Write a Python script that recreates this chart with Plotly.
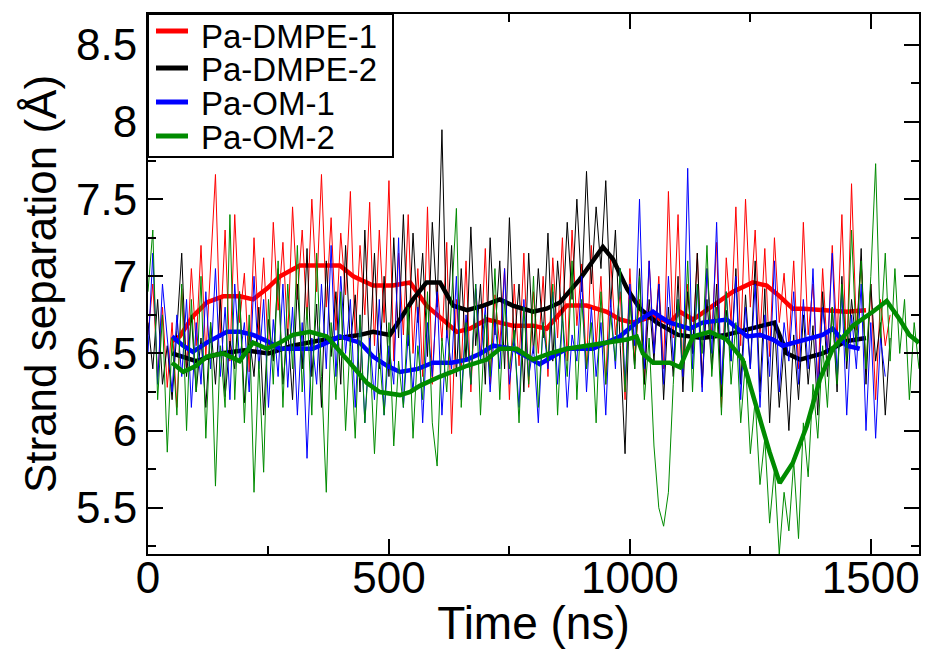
import plotly.graph_objects as go

# ---------------- data ----------------
series_names = ["Pa-DMPE-1", "Pa-DMPE-2", "Pa-OM-1", "Pa-OM-2"]
series_colors = ["#ff0000", "#000000", "#0000ff", "#008b00"]

t_red = list(range(0, 1541, 10))
red_raw = [
    6.62, 6.95, 6.35, 6.80, 6.28, 6.70, 6.15, 6.92, 6.40, 7.05,
    6.55, 7.20, 6.48, 7.10, 7.66, 6.60, 7.30, 6.45, 7.40, 6.70,
    7.02, 6.38, 7.25, 6.62, 7.12, 6.50, 7.35, 6.78, 7.22, 6.60,
    7.45, 6.85, 7.30, 6.72, 7.50, 6.90, 7.66, 6.80, 7.38, 6.65,
    7.28, 6.88, 7.55, 6.60, 7.20, 6.75, 7.48, 6.55, 7.30, 6.70,
    7.62, 6.45, 7.15, 6.62, 7.40, 6.50, 7.05, 6.35, 7.45, 6.30,
    6.95, 6.58, 7.22, 5.98, 6.85, 6.40, 7.10, 6.25, 6.92, 6.48,
    7.18, 6.30, 6.88, 6.55, 7.05, 6.20, 6.95, 6.42, 7.15, 6.28,
    6.90, 6.50, 7.00, 6.35, 7.12, 6.60, 7.25, 6.45, 7.30, 6.68,
    7.08, 6.40, 7.20, 6.55, 7.00, 6.30, 7.12, 6.62, 6.90, 6.20,
    7.05, 6.45, 6.85, 6.30, 7.10, 6.50, 7.00, 6.40, 7.55, 6.60,
    7.40, 6.35, 6.95, 6.50, 7.15, 6.28, 7.05, 6.62, 7.22, 6.15,
    7.12, 6.70, 7.45, 6.55, 7.50, 6.80, 7.30, 6.60, 7.18, 6.48,
    7.25, 6.70, 7.02, 6.55, 7.10, 6.40, 7.35, 6.62, 6.95, 6.30,
    7.05, 6.50, 7.20, 6.58, 7.40, 6.45, 7.60, 6.65, 7.10, 6.38,
    6.95, 6.20, 6.85, 6.55, 6.75,
]

t_black = list(range(0, 1541, 10))
black_raw = [
    6.70, 6.40, 6.85, 6.30, 6.55, 6.20, 6.65, 7.15, 6.35, 6.75,
    6.25, 6.60, 6.15, 6.70, 6.30, 6.85, 6.22, 6.58, 6.40, 6.90,
    6.18, 6.62, 6.35, 6.80, 6.10, 6.72, 6.45, 7.05, 6.30, 6.66,
    6.20, 6.95, 6.40, 7.18, 6.35, 6.82, 6.15, 7.10, 6.48, 6.90,
    6.30, 7.20, 6.55, 6.88, 6.25, 7.30, 6.50, 7.15, 6.40, 7.00,
    6.35, 7.25, 6.60, 7.40, 6.55, 7.28, 6.70, 7.15, 6.48, 7.35,
    6.80, 7.95, 6.60, 7.20, 6.35, 7.05, 6.45, 7.32, 6.55, 6.95,
    6.30, 7.25, 6.62, 7.10, 6.40, 7.38, 6.55, 6.95, 6.25, 7.15,
    6.50, 7.05, 6.60, 7.28, 6.45, 7.10, 6.70, 7.35, 6.85, 7.50,
    6.90, 7.68, 6.95, 7.45, 7.05, 7.62, 6.80, 7.30, 6.55, 5.85,
    6.90, 6.40, 7.05, 6.30, 6.85, 6.45, 6.95, 6.20, 6.80, 6.35,
    7.00, 6.25, 6.90, 6.50, 7.15, 6.30, 6.85, 6.40, 6.95, 6.22,
    6.78, 6.45, 7.05, 6.30, 6.88, 6.40, 7.10, 6.25, 6.92, 6.05,
    6.70, 6.15, 6.55, 6.00, 6.62, 6.20, 6.75, 6.30, 6.68, 6.10,
    6.90, 6.35, 6.80, 6.25, 7.00, 6.40, 6.85, 6.55, 7.18, 6.30,
    6.95, 6.45, 6.70, 6.10, 6.60,
]

t_blue = list(range(0, 1531, 10))
blue_raw = [
    6.50, 7.15, 6.30, 6.95, 6.60, 6.25, 6.75, 6.35, 6.85, 6.15,
    6.70, 6.30, 6.90, 6.40, 7.05, 6.35, 6.80, 6.20, 6.95, 6.45,
    6.70, 6.25, 7.00, 6.40, 6.85, 6.15, 6.72, 6.35, 6.95, 6.28,
    6.80, 6.10, 6.70, 5.82, 6.60, 6.30, 6.95, 6.40, 7.20, 6.35,
    7.00, 6.50, 6.85, 6.15, 6.75, 6.05, 6.60, 6.20, 6.85, 6.10,
    6.55, 6.30, 7.25, 6.15, 6.62, 6.25, 6.80, 6.05, 6.70, 6.35,
    6.90, 6.10, 6.65, 6.40, 7.00, 6.20, 6.75, 6.30, 6.95, 6.45,
    6.80, 6.25, 6.70, 6.40, 7.05, 6.30, 6.60, 6.15, 6.85, 6.35,
    6.55, 6.05, 6.70, 6.40, 6.90, 6.30, 6.75, 6.15, 6.62, 6.45,
    7.00, 6.25, 6.80, 6.35, 6.70, 6.10, 6.85, 6.40, 7.05, 6.30,
    6.95, 6.55, 7.50, 6.40, 7.10, 6.50, 6.95, 6.30, 7.00, 6.45,
    6.85, 6.35, 7.70, 6.40, 6.95, 6.25, 7.05, 6.50, 7.35, 6.30,
    6.90, 6.45, 7.00, 6.20, 6.80, 6.40, 6.95, 6.15, 6.75, 6.35,
    7.10, 6.25, 6.70, 6.45, 6.90, 6.30, 6.85, 6.40, 7.05, 6.25,
    6.80, 6.50, 7.15, 6.35, 6.90, 6.10, 6.75, 6.40, 6.95, 6.00,
    6.70, 5.95, 6.60, 6.35,
]

t_green = list(range(0, 1601, 10))
green_raw = [
    6.90, 7.30, 6.20, 6.75, 5.86, 6.60, 6.10, 6.95, 6.00, 6.85,
    6.25, 7.00, 5.95, 6.70, 5.64, 6.55, 6.15, 7.40, 6.20, 6.90,
    6.05, 6.75, 5.60, 6.45, 5.73, 6.85, 6.30, 7.10, 6.15, 6.95,
    6.40, 7.20, 6.25, 6.80, 6.10, 7.15, 6.35, 5.60, 6.70, 6.20,
    6.90, 6.00, 6.60, 5.95, 6.75, 6.05, 6.55, 5.85, 6.50, 6.10,
    6.70, 5.90, 6.45, 6.15, 6.80, 5.95, 6.55, 6.20, 6.90, 6.05,
    5.77, 6.60, 6.25, 6.85, 7.44, 6.15, 6.70, 6.30, 6.95, 6.10,
    6.75, 6.35, 7.05, 6.20, 6.85, 6.40, 6.65, 6.05, 6.80, 6.30,
    7.00, 6.15, 6.70, 6.45, 6.95, 6.10, 6.75, 6.35, 7.10, 6.20,
    6.85, 6.40, 6.70, 6.05, 6.90, 6.30, 6.75, 6.45, 7.05, 6.25,
    6.85, 6.40, 7.00, 6.20, 6.60, 5.90, 5.50, 5.38, 5.60, 6.30,
    6.85, 6.40, 7.10, 6.25, 6.95, 6.50, 7.20, 6.35, 6.80, 6.10,
    6.90, 6.30, 6.70, 6.05, 6.45, 5.85, 6.20, 5.65, 5.95, 5.40,
    5.75, 5.20, 5.60, 5.35, 5.80, 5.30, 6.05, 5.70, 6.30, 5.95,
    6.55, 6.15, 6.80, 6.30, 6.95, 6.45, 7.30, 6.55, 7.10, 6.40,
    7.00, 7.73, 6.60, 7.15, 6.45, 7.05, 6.50, 6.85, 6.20, 6.70,
    6.40,
]

# running averages (thick lines)
ts_red = [50, 66, 93, 122, 156, 191, 218, 247, 274, 315, 357, 398, 426, 467, 508,
          544, 578, 613, 641, 668, 703, 730, 757, 799, 827, 869, 910, 952, 979,
          1006, 1048, 1083, 1104, 1131, 1172, 1214, 1255, 1284, 1311, 1338, 1360,
          1400, 1450, 1490]
red_avg = [6.58, 6.61, 6.74, 6.83, 6.87, 6.87, 6.85, 6.92, 7.00, 7.07, 7.07, 7.07,
           7.00, 6.94, 6.94, 6.96, 6.81, 6.72, 6.64, 6.66, 6.72, 6.70, 6.68, 6.68,
           6.66, 6.81, 6.81, 6.77, 6.72, 6.70, 6.74, 6.70, 6.77, 6.72, 6.81, 6.90,
           6.96, 6.94, 6.87, 6.79, 6.79, 6.78, 6.77, 6.78]

ts_black = [50, 100, 150, 200, 250, 300, 350, 400, 440, 467, 502, 523, 550, 578,
            606, 633, 662, 696, 730, 757, 799, 827, 855, 896, 923, 944, 965, 994,
            1021, 1056, 1100, 1150, 1200, 1250, 1300, 1326, 1353, 1400, 1450, 1490]
black_avg = [6.50, 6.45, 6.50, 6.52, 6.50, 6.55, 6.58, 6.60, 6.62, 6.64, 6.62,
             6.72, 6.85, 6.96, 6.96, 6.81, 6.78, 6.81, 6.85, 6.81, 6.77, 6.79,
             6.83, 6.98, 7.10, 7.19, 7.11, 6.92, 6.79, 6.70, 6.62, 6.60, 6.62,
             6.66, 6.70, 6.50, 6.46, 6.50, 6.58, 6.60]

ts_blue = [50, 73, 93, 122, 164, 191, 218, 247, 274, 309, 342, 371, 398, 440, 467,
           496, 523, 560, 591, 630, 662, 690, 716, 757, 785, 813, 840, 869, 923,
           979, 1021, 1048, 1062, 1083, 1124, 1151, 1201, 1243, 1270, 1297, 1317,
           1367, 1400, 1421, 1450, 1477]
blue_avg = [6.61, 6.55, 6.51, 6.57, 6.64, 6.64, 6.62, 6.58, 6.53, 6.53, 6.53,
            6.57, 6.61, 6.57, 6.48, 6.42, 6.38, 6.40, 6.44, 6.44, 6.46, 6.50,
            6.55, 6.53, 6.48, 6.43, 6.48, 6.53, 6.53, 6.61, 6.72, 6.77, 6.74,
            6.70, 6.66, 6.70, 6.72, 6.61, 6.62, 6.59, 6.55, 6.59, 6.62, 6.66,
            6.55, 6.53]

ts_green = [50, 73, 100, 122, 156, 190, 218, 247, 274, 301, 336, 371, 413, 454,
            481, 523, 544, 564, 606, 662, 703, 730, 765, 799, 834, 869, 910, 952,
            994, 1014, 1027, 1048, 1083, 1104, 1131, 1166, 1201, 1234, 1270, 1290,
            1311, 1338, 1367, 1394, 1421, 1463, 1504, 1533, 1560, 1580, 1600]
green_avg = [6.44, 6.38, 6.42, 6.48, 6.50, 6.45, 6.57, 6.53, 6.57, 6.62, 6.64,
             6.61, 6.46, 6.31, 6.25, 6.23, 6.25, 6.29, 6.35, 6.42, 6.46, 6.53,
             6.53, 6.46, 6.50, 6.53, 6.55, 6.57, 6.59, 6.61, 6.50, 6.44, 6.44,
             6.41, 6.61, 6.64, 6.59, 6.46, 6.07, 5.86, 5.66, 5.79, 6.03, 6.33,
             6.53, 6.68, 6.77, 6.84, 6.72, 6.62, 6.57]

x_ticks = [0, 500, 1000, 1500]
y_ticks = [5.5, 6, 6.5, 7, 7.5, 8, 8.5]
y_tick_text = ["5.5", "6", "6.5", "7", "7.5", "8", "8.5"]

# ---------------- figure ----------------
FONT = "Liberation Sans, Arial, sans-serif"
raw = [(t_red, red_raw), (t_black, black_raw), (t_blue, blue_raw), (t_green, green_raw)]
avg = [(ts_red, red_avg), (ts_black, black_avg), (ts_blue, blue_avg), (ts_green, green_avg)]

fig = go.Figure()
for i in range(4):
    fig.add_trace(go.Scatter(x=raw[i][0], y=raw[i][1], mode="lines",
                             line=dict(color=series_colors[i], width=1),
                             showlegend=False, hoverinfo="skip"))
    fig.add_trace(go.Scatter(x=avg[i][0], y=avg[i][1], mode="lines",
                             line=dict(color=series_colors[i], width=4.5),
                             name=series_names[i], showlegend=False))

W, H = 929, 649
ML, MR, MT, MB = 148, 10, 14, 95
PW, PH = W - ML - MR, H - MT - MB


def px(xp):
    return (xp - ML) / PW


def py(yp):
    return (H - MB - yp) / PH


shapes = [dict(type="rect", xref="paper", yref="paper", x0=0, x1=px(393),
               y0=py(157), y1=1, line=dict(color="black", width=2),
               fillcolor="white", layer="above")]
annotations = []
rows_line = [31, 68, 102, 136]
rows_text = [36, 69, 103, 137]
for i in range(4):
    shapes.append(dict(type="line", xref="paper", yref="paper", x0=px(156), x1=px(188),
                       y0=py(rows_line[i]), y1=py(rows_line[i]),
                       line=dict(color=series_colors[i], width=5), layer="above"))
    annotations.append(dict(xref="paper", yref="paper", x=px(200), y=py(rows_text[i]),
                            xanchor="left", yanchor="middle", showarrow=False,
                            text=series_names[i], height=30, borderpad=0,
                            font=dict(family=FONT, size=33, color="black")))

axis_common = dict(showline=True, linecolor="black", linewidth=2, mirror="ticks",
                   ticks="inside", ticklen=15, tickwidth=2, tickcolor="black",
                   showgrid=False, zeroline=False,
                   tickfont=dict(family=FONT, size=44, color="black"))

fig.update_layout(
    width=W, height=H,
    margin=dict(l=ML, r=MR, t=MT, b=MB, autoexpand=False),
    paper_bgcolor="white", plot_bgcolor="white",
    shapes=shapes, annotations=annotations,
    xaxis=dict(range=[0, 1600], tickvals=x_ticks, ticklabelstandoff=-16,
               minor=dict(dtick=250, tick0=0, ticks="inside", ticklen=8, tickwidth=2,
                          tickcolor="black", showgrid=False),
               title=dict(text="Time (ns)", font=dict(family=FONT, size=46, color="black"),
                          standoff=2),
               **axis_common),
    yaxis=dict(range=[5.2, 8.7], tickvals=y_ticks, ticktext=y_tick_text,
               minor=dict(dtick=0.25, tick0=0, ticks="inside", ticklen=8, tickwidth=2,
                          tickcolor="black", showgrid=False),
               title=dict(text="Strand separation (Å)",
                          font=dict(family=FONT, size=44, color="black"), standoff=6),
               **axis_common),
)

fig.write_html("out.html")
